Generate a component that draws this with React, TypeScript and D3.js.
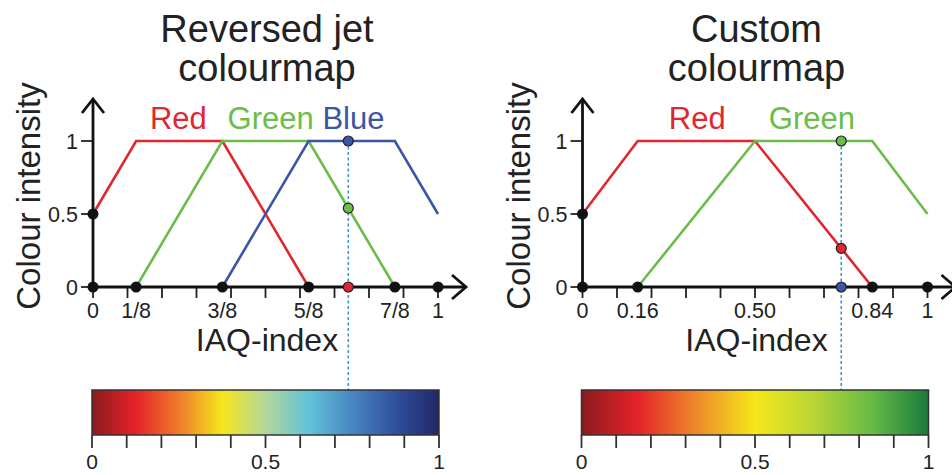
import React from "react";
import * as d3 from "d3";

// Channel curves (x = IAQ-index, y = colour intensity)
const jetRed: [number, number][] = [[0, 0.5], [0.125, 1], [0.375, 1], [0.625, 0]];
const jetGreen: [number, number][] = [[0.125, 0], [0.375, 1], [0.625, 1], [0.875, 0]];
const jetBlue: [number, number][] = [[0.375, 0], [0.625, 1], [0.875, 1], [1, 0.5]];
const jetBreakpoints = [0, 0.125, 0.375, 0.625, 0.875, 1];
const jetTickValues = [0, 0.125, 0.375, 0.625, 0.875, 1];
const jetTickLabels = ["0", "1/8", "3/8", "5/8", "7/8", "1"];
const jetMarkerX = 0.74;
const jetLabels = [
  { text: "Red", x: 0.165, channel: "red" },
  { text: "Green", x: 0.39, channel: "green" },
  { text: "Blue", x: 0.665, channel: "blue" },
];

const customRed: [number, number][] = [[0, 0.5], [0.16, 1], [0.5, 1], [0.84, 0]];
const customGreen: [number, number][] = [[0.16, 0], [0.5, 1], [0.84, 1], [1, 0.5]];
const customBlue: [number, number][] = [[0, 0], [1, 0]];
const customBreakpoints = [0, 0.16, 0.84, 1];
const customTickValues = [0, 0.16, 0.5, 0.84, 1];
const customTickLabels = ["0", "0.16", "0.50", "0.84", "1"];
const customMarkerX = 0.75;
const customLabels = [
  { text: "Red", x: 0.25, channel: "red" },
  { text: "Green", x: 0.54, channel: "green" },
];

// colour bar stops
const jetStops: [number, string][] = [
  [0, "#8a1b1e"], [0.125, "#e52229"], [0.25, "#ee7b2b"], [0.375, "#f5e61b"],
  [0.5, "#b2d79c"], [0.625, "#62c2d9"], [0.75, "#4886c1"], [0.875, "#30509e"], [1, "#1f2767"],
];
const customStops: [number, string][] = [
  [0, "#8a1b1e"], [0.16, "#e52229"], [0.33, "#ee892a"], [0.5, "#f5e71a"],
  [0.67, "#b9d535"], [0.84, "#66ba47"], [1, "#197b3c"],
];

const yTicks = [0, 0.5, 1];
const yTickLabels = ["0", "0.5", "1"];
const barTicks = d3.range(0, 1.0001, 0.1);
const barLabels = [0, 0.5, 1];

const channelColor: Record<string, string> = { red: "#e0262e", green: "#6bbd4a", blue: "#3a56a6" };
const ink = "#222";

// value of a piecewise linear curve at x
const valueAt = (pts: [number, number][], x: number) => {
  for (let i = 1; i < pts.length; i++) {
    const [x0, y0] = pts[i - 1];
    const [x1, y1] = pts[i];
    if (x >= x0 && x <= x1) return y0 + ((y1 - y0) * (x - x0)) / (x1 - x0);
  }
  return 0;
};

type PanelProps = {
  id: string;
  left: number;
  title: string[];
  curves: { channel: string; pts: [number, number][]; draw: boolean }[];
  labels: { text: string; x: number; channel: string }[];
  breakpoints: number[];
  tickValues: number[];
  tickLabels: string[];
  markerX: number;
  stops: [number, string][];
};

const Panel = ({ id, left, title, curves, labels, breakpoints, tickValues, tickLabels, markerX, stops }: PanelProps) => {
  const x = d3.scaleLinear().domain([0, 1]).range([left, left + 345]);
  const y = d3.scaleLinear().domain([0, 1]).range([287, 141]);
  const bx = d3.scaleLinear().domain([0, 1]).range([left - 1, left + 346]);
  const line = d3.line<[number, number]>().x((d) => x(d[0])).y((d) => y(d[1]));
  const barTop = 390;
  const barBottom = 435;
  const cx = left + 174;
  const font = "'Liberation Sans', Arial, sans-serif";

  // topmost coloured marker sets the start of the dotted guide
  const markerVals = curves.map((c) => valueAt(c.pts, markerX));
  const topVal = d3.max(markerVals) ?? 1;

  return (
    <g fontFamily={font} fill={ink}>
      <defs>
        <linearGradient id={id} x1="0" x2="1" y1="0" y2="0">
          {stops.map(([o, c]) => (
            <stop key={o} offset={o} stopColor={c} />
          ))}
        </linearGradient>
      </defs>

      {/* title */}
      {title.map((t, i) => (
        <text key={t} x={cx} y={42 + i * 39} fontSize={38} textAnchor="middle">
          {t}
        </text>
      ))}

      {/* y label */}
      <text transform={`translate(${left - 53},196) rotate(-90)`} fontSize={33} textAnchor="middle">
        Colour intensity
      </text>

      {/* x ticks */}
      {barTicks.map((t) => (
        <line key={t} x1={x(t)} x2={x(t)} y1={y(0)} y2={y(0) + 11} stroke={ink} strokeWidth={1.8} />
      ))}
      {tickValues.map((t, i) => (
        <text key={t} x={x(t)} y={318} fontSize={21.5} textAnchor="middle">
          {tickLabels[i]}
        </text>
      ))}
      <text x={cx} y={351} fontSize={32} textAnchor="middle">
        IAQ-index
      </text>

      {/* y ticks */}
      {yTicks.map((t, i) => (
        <g key={t}>
          <line x1={left - 12} x2={left} y1={y(t)} y2={y(t)} stroke={ink} strokeWidth={1.8} />
          <text x={left - 15} y={y(t) + 7.5} fontSize={21.5} textAnchor="end">
            {yTickLabels[i]}
          </text>
        </g>
      ))}

      {/* dotted guide */}
      <line
        x1={x(markerX)}
        x2={x(markerX)}
        y1={y(topVal)}
        y2={barTop}
        stroke="#3d95d2"
        strokeWidth={1.6}
        strokeDasharray="3,2.5"
      />

      {/* curves */}
      {curves
        .filter((c) => c.draw)
        .map((c) => (
          <path key={c.channel} d={line(c.pts) ?? ""} fill="none" stroke={channelColor[c.channel]} strokeWidth={2.6} />
        ))}

      {/* axes */}
      <g stroke="#111" strokeWidth={2.8} fill="none" strokeLinejoin="miter">
        <line x1={left} x2={left} y1={y(0)} y2={99} />
        <polyline points={`${left - 11},113 ${left},99 ${left + 11},113`} />
        <line x1={left} x2={left + 373} y1={y(0)} y2={y(0)} />
        <polyline points={`${left + 359},${y(0) - 12} ${left + 373},${y(0)} ${left + 359},${y(0) + 12}`} />
      </g>

      {/* channel labels */}
      {labels.map((l) => (
        <text key={l.text} x={x(l.x)} y={129} fontSize={31} fill={channelColor[l.channel]}>
          {l.text}
        </text>
      ))}

      {/* breakpoints */}
      {breakpoints.map((b) => (
        <circle key={b} cx={x(b)} cy={y(0)} r={5.5} fill="#111" />
      ))}
      <circle cx={x(0)} cy={y(0.5)} r={5.5} fill="#111" />

      {/* colour markers */}
      {curves.map((c, i) => (
        <circle
          key={c.channel}
          cx={x(markerX)}
          cy={y(markerVals[i])}
          r={5}
          fill={channelColor[c.channel]}
          stroke="#222"
          strokeWidth={1.2}
        />
      ))}

      {/* colour bar */}
      <rect x={bx(0)} y={barTop} width={bx(1) - bx(0)} height={barBottom - barTop} fill={`url(#${id})`} stroke="#333" strokeWidth={1.5} />
      {barTicks.map((t) => (
        <line key={t} x1={bx(t)} x2={bx(t)} y1={barBottom} y2={barBottom + 13} stroke="#333" strokeWidth={1.8} />
      ))}
      {barLabels.map((t) => (
        <text key={t} x={bx(t)} y={469} fontSize={21} textAnchor="middle">
          {String(t)}
        </text>
      ))}
    </g>
  );
};

const App = () => {
  return (
    <svg width={952} height={475} style={{ position: "absolute", left: 0, top: 0, background: "#fff" }}>
      <Panel
        id="jetGrad"
        left={93}
        title={["Reversed jet", "colourmap"]}
        curves={[
          { channel: "red", pts: jetRed, draw: true },
          { channel: "green", pts: jetGreen, draw: true },
          { channel: "blue", pts: jetBlue, draw: true },
        ]}
        labels={jetLabels}
        breakpoints={jetBreakpoints}
        tickValues={jetTickValues}
        tickLabels={jetTickLabels}
        markerX={jetMarkerX}
        stops={jetStops}
      />
      <Panel
        id="customGrad"
        left={582.5}
        title={["Custom", "colourmap"]}
        curves={[
          { channel: "red", pts: customRed, draw: true },
          { channel: "green", pts: customGreen, draw: true },
          { channel: "blue", pts: customBlue, draw: false },
        ]}
        labels={customLabels}
        breakpoints={customBreakpoints}
        tickValues={customTickValues}
        tickLabels={customTickLabels}
        markerX={customMarkerX}
        stops={customStops}
      />
    </svg>
  );
};

export default App;
